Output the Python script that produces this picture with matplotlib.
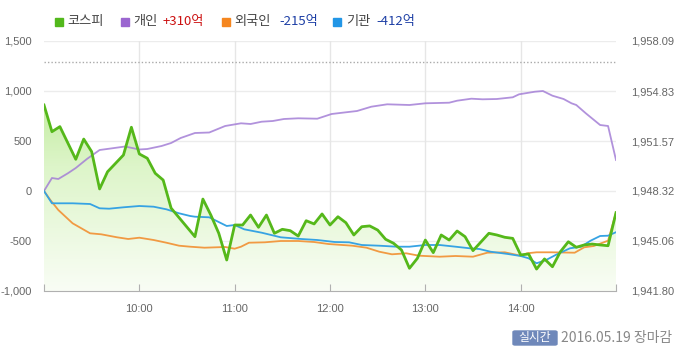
import numpy as np
import matplotlib
matplotlib.use("Agg")
import matplotlib.pyplot as plt
from matplotlib.colors import LinearSegmentedColormap
from matplotlib.patches import Rectangle, FancyBboxPatch

plt.rcParams['font.family'] = ['Liberation Sans', 'Noto Sans CJK KR', 'DejaVu Sans']
plt.rcParams['axes.unicode_minus'] = False

# minutes after 09:00
kospi_t = [0, 5, 10, 20, 25, 30, 35, 40, 50, 55, 60, 65, 70, 75, 80, 95, 100, 105, 110, 115,
           120, 125, 130, 135, 140, 145, 150, 155, 160, 165, 170, 175, 180, 185, 190, 195,
           200, 205, 210, 215, 220, 225, 230, 235, 240, 245, 250, 255, 260, 265, 270, 280,
           285, 290, 295, 300, 305, 310, 315, 320, 325, 330, 335, 340, 345, 350, 355, 360]
kospi = [1953.92, 1952.18, 1952.51, 1950.38, 1951.70, 1950.88, 1948.45, 1949.57, 1950.66, 1952.47,
         1950.73, 1950.45, 1949.47, 1949.03, 1947.20, 1945.34, 1947.79, 1946.75, 1945.56, 1943.82,
         1946.10, 1946.10, 1946.75, 1945.95, 1946.75, 1945.56, 1945.82, 1945.73, 1945.38, 1946.38,
         1946.17, 1946.82, 1946.10, 1946.64, 1946.25, 1945.45, 1945.99, 1946.04, 1945.77, 1945.17,
         1944.91, 1944.47, 1943.28, 1943.93, 1945.12, 1944.30, 1945.45, 1945.12, 1945.71, 1945.34,
         1944.43, 1945.56, 1945.45, 1945.30, 1945.23, 1944.15, 1944.21, 1943.23, 1943.89, 1943.38,
         1944.36, 1945.01, 1944.65, 1944.80, 1944.86, 1944.80, 1944.75, 1946.90]
prev_close = 1956.73

person_t = [0, 5, 9, 15, 20, 27, 35, 42, 51, 60, 65, 74, 80, 86, 95, 104, 114, 124, 130, 137,
            144, 151, 160, 172, 181, 190, 197, 206, 216, 230, 240, 255, 260, 269, 276, 285,
            295, 299, 309, 314, 320, 327, 332, 335, 341, 350, 355, 360]
person = [0, 130, 120, 177, 230, 320, 410, 425, 445, 415, 420, 450, 480, 530, 580, 585, 650, 677,
          670, 693, 700, 720, 727, 723, 770, 787, 800, 843, 867, 860, 877, 883, 903, 923, 917,
          920, 937, 967, 993, 1000, 953, 920, 877, 860, 777, 660, 650, 310]

foreign_t = [0, 4, 9, 18, 29, 36, 46, 53, 60, 69, 77, 85, 92, 101, 114, 120, 124, 129, 139,
             149, 160, 170, 179, 194, 203, 211, 219, 228, 236, 249, 259, 270, 279, 290, 300,
             304, 310, 319, 334, 340, 346, 355, 360]
foreign = [0, -90, -190, -323, -423, -433, -463, -480, -467, -490, -517, -547, -557, -567, -560,
           -577, -557, -517, -513, -500, -500, -510, -530, -547, -567, -607, -633, -623, -647,
           -657, -650, -657, -617, -613, -647, -623, -613, -613, -617, -563, -550, -497, -215]

inst_t = [0, 5, 18, 29, 35, 41, 50, 60, 69, 77, 85, 92, 95, 104, 115, 120, 126, 137, 149, 162,
          172, 183, 192, 200, 211, 222, 230, 240, 249, 259, 268, 274, 281, 292, 300, 305, 310,
          316, 322, 331, 338, 344, 350, 355, 360]
inst = [0, -123, -123, -130, -173, -177, -163, -150, -157, -183, -223, -250, -257, -263, -350,
        -340, -383, -417, -463, -480, -490, -510, -513, -540, -547, -557, -557, -540, -540, -557,
        -573, -580, -607, -630, -650, -673, -723, -690, -640, -573, -557, -497, -450, -447, -412]

left_ticks = [-1000, -500, 0, 500, 1000, 1500]
right_ticks = [1941.80, 1945.06, 1948.32, 1951.57, 1954.83, 1958.09]
hour_ticks = [0, 60, 120, 180, 240, 300, 360]
hour_labels = ["", "10:00", "11:00", "12:00", "13:00", "14:00", ""]

W, H = 696, 357
fig = plt.figure(figsize=(W / 100, H / 100), dpi=100)
rect = [44 / W, 66 / H, 572 / W, 250 / H]

ax_fill = fig.add_axes(rect)
ax = fig.add_axes(rect)
ax_k = fig.add_axes(rect)
for a in (ax_fill, ax, ax_k):
    a.patch.set_visible(False)
    for s in a.spines.values():
        s.set_visible(False)
    a.set_xlim(0, 360)
ax_fill.set_zorder(0)
ax.set_zorder(1)
ax_k.set_zorder(2)

# background grid and gradient fill under kospi
ax_fill.set_ylim(right_ticks[0], right_ticks[-1])
for v in right_ticks[1:]:
    ax_fill.axhline(v, color="#ececec", lw=1, zorder=0)
for t in hour_ticks[1:-1]:
    ax_fill.axvline(t, color="#e6e6e6", lw=1, zorder=0)
poly = ax_fill.fill_between(kospi_t, kospi, right_ticks[0], color="none")
cmap = LinearSegmentedColormap.from_list("g", ["#f9fdf5", "#ddf5c9", "#ace47c"])
grad = np.linspace(0, 1, 256).reshape(-1, 1)
im = ax_fill.imshow(grad, extent=[0, 360, right_ticks[0], right_ticks[-1]], origin="lower",
                    aspect="auto", cmap=cmap, zorder=1)
im.set_clip_path(poly.get_paths()[0], transform=ax_fill.transData)
ax_fill.axhline(prev_close, color="#aaaaaa", lw=1, ls=(0, (1, 1.5)), zorder=2)
ax_fill.set_xlim(0, 360)
ax_fill.set_ylim(right_ticks[0], right_ticks[-1])
ax_fill.set_xticks([])
ax_fill.set_yticks([])

# investor lines
ax.plot(person_t, person, color="#a47fd6", lw=1.3, alpha=0.85)
ax.plot(foreign_t, foreign, color="#f19a43", lw=1.3)
ax.plot(inst_t, inst, color="#36a3e3", lw=1.3)
ax.set_ylim(-1000, 1500)
ax.set_yticks(left_ticks)
ax.set_yticklabels([f"{v:,}" for v in left_ticks])
ax.set_xticks(hour_ticks)
ax.set_xticklabels(hour_labels)
ax.spines["bottom"].set_visible(True)
ax.spines["bottom"].set_color("#b0b0b0")
ax.tick_params(axis="y", length=0, pad=9, labelsize=8, labelcolor="#666666")
ax.tick_params(axis="x", direction="in", length=5, color="#b0b0b0", pad=9,
               labelsize=8, labelcolor="#666666")

# kospi line on right scale
ax_k.plot(kospi_t, kospi, color="#55b81a", lw=2.0)
ax_k.set_ylim(right_ticks[0], right_ticks[-1])
ax_k.set_xticks([])
ax_k.yaxis.tick_right()
ax_k.set_yticks(right_ticks)
ax_k.set_yticklabels([f"{v:,.2f}" for v in right_ticks])
ax_k.tick_params(axis="y", length=0, pad=11, labelsize=8, labelcolor="#666666")

# legend
kr = ['Noto Sans CJK KR', 'DejaVu Sans']
def px(x, y):
    return x / W, 1 - y / H

legend = [
    (55, "#52b81c", [(67, "코스피", "#444444")]),
    (121, "#9b66d0", [(133, "개인", "#444444"), (163, "+310억", "#cc1111")]),
    (222, "#f5861f", [(234, "외국인", "#444444"), (279, "-215억", "#1d3fa5")]),
    (333, "#2296e6", [(346, "기관", "#444444"), (376, "-412억", "#1d3fa5")]),
]
for sx, col, texts in legend:
    fig.patches.append(Rectangle(px(sx, 26), 8 / W, 8 / H, transform=fig.transFigure,
                                 color=col, figure=fig))
    for tx, s, c in texts:
        fig.text(*px(tx, 21.5), s, color=c, fontsize=9.5, family=kr, va="center", ha="left")

# footer
fig.patches.append(FancyBboxPatch(px(513, 345), 44 / W, 14 / H, transform=fig.transFigure,
                                  boxstyle="round,pad=0,rounding_size=0.003",
                                  color="#6f88ba", figure=fig))
fig.text(*px(535, 338), "실시간", color="white", fontsize=8.5, family=kr,
         va="center", ha="center")
fig.text(*px(561, 338), "2016.05.19 장마감", color="#888888", fontsize=10, family=kr,
         va="center", ha="left")

fig.savefig("out.png", dpi=100, facecolor="white")
